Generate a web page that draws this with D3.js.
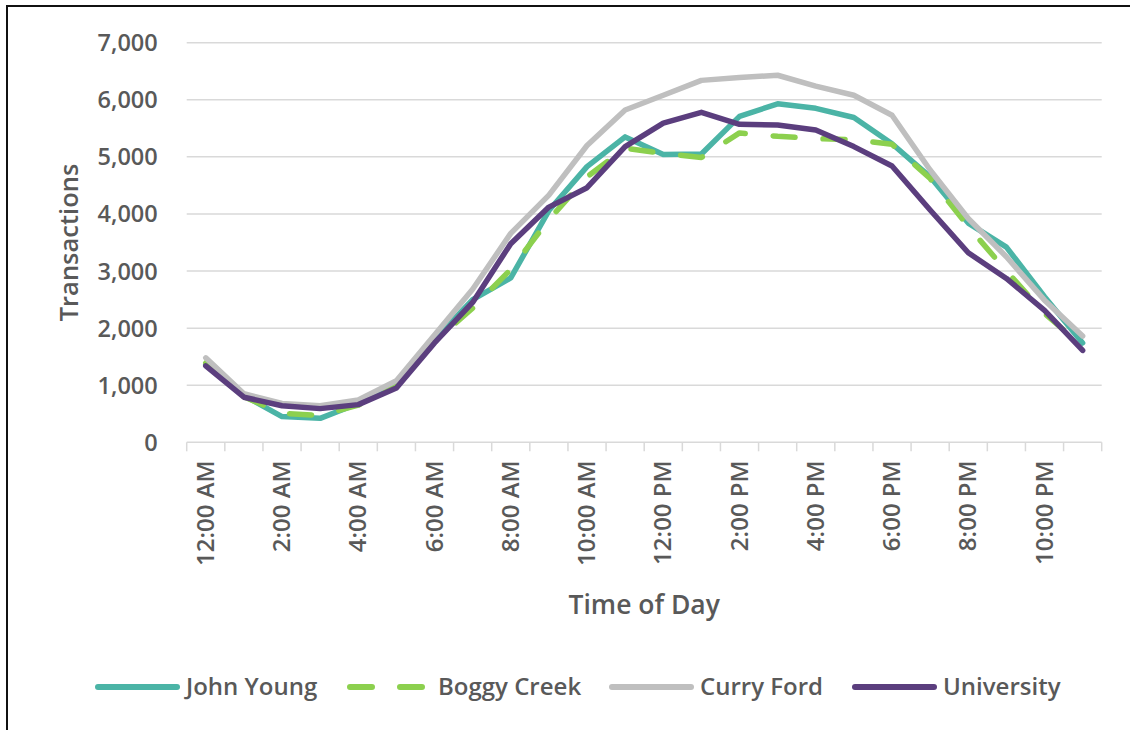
<!DOCTYPE html>
<html><head><meta charset="utf-8">
<script src="https://cdn.jsdelivr.net/npm/d3@7/dist/d3.min.js"></script>
<style>
html,body{margin:0;padding:0;background:#fff;}
svg{display:block;}
text{font-family:"Open Sans","Noto Sans",sans-serif;font-weight:600;fill:#595959;}
</style></head>
<body>
<svg id="chart" width="1130" height="730"></svg>
<script>
const hours = ["12:00 AM","1:00 AM","2:00 AM","3:00 AM","4:00 AM","5:00 AM","6:00 AM","7:00 AM","8:00 AM","9:00 AM","10:00 AM","11:00 AM",
               "12:00 PM","1:00 PM","2:00 PM","3:00 PM","4:00 PM","5:00 PM","6:00 PM","7:00 PM","8:00 PM","9:00 PM","10:00 PM","11:00 PM"];
const seriesNames = ["John Young","Boggy Creek","Curry Ford","University"];
const johnYoung  = [1370, 820, 450, 420, 680,1000,1800,2500,2880,4060,4830,5350,5040,5050,5710,5930,5850,5690,5230,4650,3840,3420,2550,1740];
const boggyCreek = [1390, 800, 510, 470, 650, 980,1760,2350,3030,3900,4650,5150,5060,4990,5420,5360,5320,5300,5220,4620,3780,3000,2260,1680];
const curryFord  = [1480, 850, 680, 640, 740,1080,1880,2680,3660,4330,5200,5820,6080,6340,6390,6430,6240,6080,5730,4770,3920,3250,2490,1860];
const university = [1340, 790, 640, 590, 660, 950,1740,2450,3480,4120,4460,5180,5590,5780,5570,5560,5470,5180,4840,4070,3320,2870,2310,1610];
const yTicks = [0,1000,2000,3000,4000,5000,6000,7000];
const colors = ["#4BB4A6","#8CD04E","#BFBFBF","#5B3E7E"];
const dashes = [null,"22,28",null,null];

const svg = d3.select("#chart");
const pL = 186.7, pR = 1101.7, pT = 42.7, pB = 442.3;

// frame
svg.append("rect").attr("x",7).attr("y",6).attr("width",1300).attr("height",900)
  .attr("fill","none").attr("stroke","#111").attr("stroke-width",2);

const x = d3.scaleBand().domain(hours).range([pL,pR]).padding(0);
const y = d3.scaleLinear().domain([0,7000]).range([pB,pT]);
const cx = d => x(d) + x.bandwidth()/2;

// gridlines
svg.append("g").selectAll("line").data(yTicks.filter(v=>v>0)).join("line")
  .attr("x1",pL).attr("x2",pR).attr("y1",d=>y(d)).attr("y2",d=>y(d))
  .attr("stroke","#D9D9D9").attr("stroke-width",1.5);

// y axis labels
const yAxis = d3.axisLeft(y).tickValues(yTicks).tickSize(0).tickPadding(0).tickFormat(d3.format(","));
const ya = svg.append("g").attr("transform",`translate(${pL-29},0)`).call(yAxis);
ya.select(".domain").remove();
ya.selectAll("text").style("font-size","23.5px").attr("fill","#595959").attr("dy","0.34em")
  .style("font-family","'Open Sans',sans-serif").style("font-weight","600");

// x axis
const xAxis = d3.axisBottom(x).tickSize(0).tickFormat("");
const xa = svg.append("g").attr("transform",`translate(0,${pB})`).call(xAxis);
xa.select(".domain").attr("stroke","#D9D9D9").attr("stroke-width",1.5).attr("d",`M${pL},0H${pR}`);
const bounds = hours.map(h=>x(h)).concat([pR]);
svg.append("g").selectAll("line").data(bounds).join("line")
  .attr("x1",d=>d).attr("x2",d=>d).attr("y1",pB).attr("y2",pB+9)
  .attr("stroke","#D9D9D9").attr("stroke-width",1.5);
svg.append("g").selectAll("text").data(hours.filter((h,i)=>i%2===0)).join("text")
  .attr("transform",d=>`translate(${cx(d)+8},${pB+18}) rotate(-90)`)
  .attr("text-anchor","end").style("font-size","24px").text(d=>d);

// axis titles
svg.append("text").attr("transform",`translate(${78},${(pT+pB)/2}) rotate(-90)`)
  .attr("text-anchor","middle").style("font-size","25.5px").text("Transactions");
svg.append("text").attr("x",(pL+pR)/2).attr("y",614)
  .attr("text-anchor","middle").style("font-size","26.5px").text("Time of Day");

// lines
const data = [johnYoung,boggyCreek,curryFord,university];
const line = d3.line().x((d,i)=>cx(hours[i])).y(d=>y(d));
data.forEach((s,k)=>{
  svg.append("path").datum(s).attr("d",line).attr("fill","none")
    .attr("stroke",colors[k]).attr("stroke-width",5.5)
    .attr("stroke-linejoin","round").attr("stroke-linecap","round")
    .attr("stroke-dasharray",dashes[k]);
});

// legend
const legX = [98,350,612,855];
const legY = 687;
seriesNames.forEach((n,k)=>{
  const g = svg.append("g");
  g.append("line").attr("x1",legX[k]).attr("x2",legX[k]+79).attr("y1",legY).attr("y2",legY)
    .attr("stroke",colors[k]).attr("stroke-width",6).attr("stroke-linecap","round")
    .attr("stroke-dasharray",dashes[k]);
  g.append("text").attr("x",legX[k]+88).attr("y",legY).attr("dy","0.35em")
    .style("font-size","24px").text(n);
});
</script>
</body></html>
